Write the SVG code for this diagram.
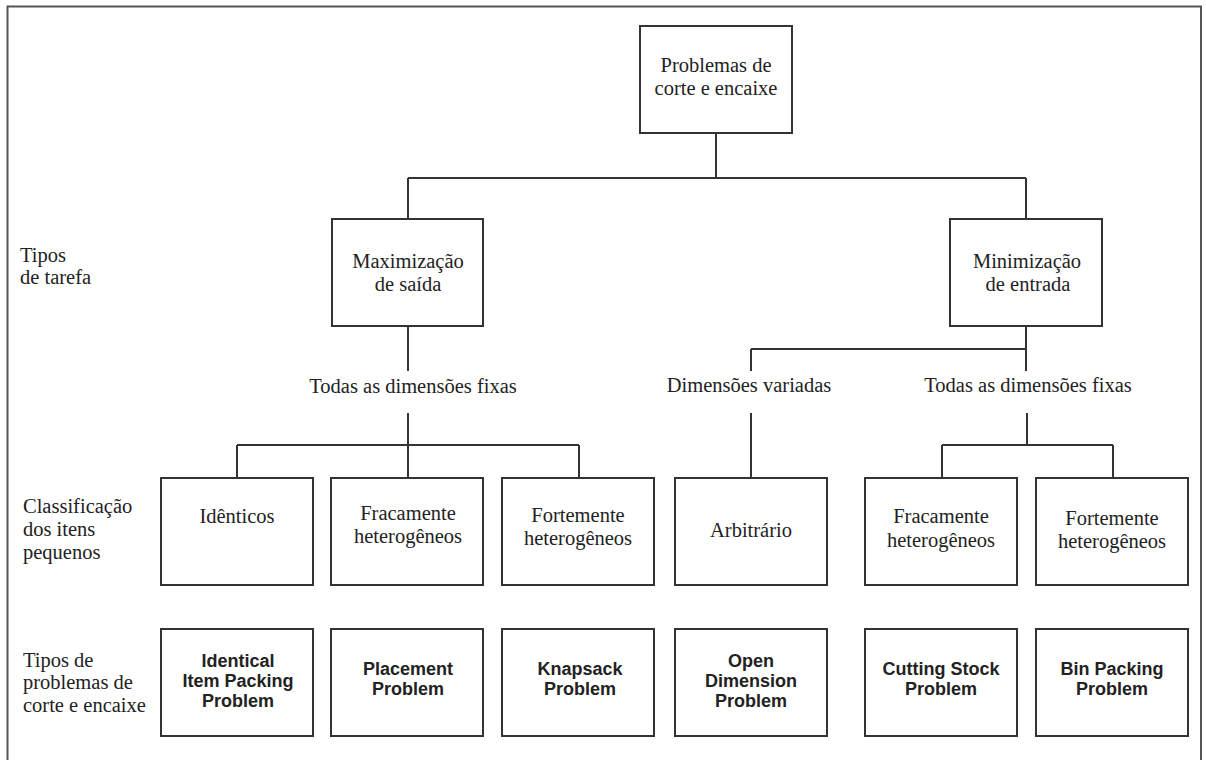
<svg xmlns="http://www.w3.org/2000/svg" width="1206" height="760" viewBox="0 0 1206 760">
<style>
.box{fill:#fff;stroke:#333;stroke-width:2}
.ln{fill:none;stroke:#333;stroke-width:2}
.s{font-family:"Liberation Serif","Times New Roman",serif;font-size:20.5px;fill:#222}
.c{text-anchor:middle}
.b{font-family:"Liberation Sans",Arial,sans-serif;font-size:18px;font-weight:bold;fill:#222;text-anchor:middle}
</style>
<rect width="1206" height="760" fill="#fff"/>
<path d="M7.5,760 V6.5 H1201 V760" fill="none" stroke="#555" stroke-width="2"/>
<g id="connectors">
<path class="ln" d="M716,133 V178 M408,178 H1026 M408,178 V219 M1026,178 V219"/>
<path class="ln" d="M408,326 V371 M408,413 V477 M237,445 H579 M237,445 V477 M579,445 V477"/>
<path class="ln" d="M1026,326 V371 M751,349 H1026 M751,349 V371 M751,413 V477"/>
<path class="ln" d="M1027,413 V445 M942,445 H1113 M942,445 V477 M1113,445 V477"/>
</g>
<g id="labels-left">
<text class="s" x="20" y="262">Tipos</text>
<text class="s" x="20" y="284">de tarefa</text>
<text class="s" x="23" y="513">Classificação</text>
<text class="s" x="23" y="536">dos itens</text>
<text class="s" x="23" y="559">pequenos</text>
<text class="s" x="23" y="667">Tipos de</text>
<text class="s" x="23" y="689">problemas de</text>
<text class="s" x="23" y="712">corte e encaixe</text>
</g>
<g id="root">
<rect class="box" x="640" y="26" width="152" height="107"/>
<text class="s c" x="716" y="72">Problemas de</text>
<text class="s c" x="716" y="95">corte e encaixe</text>
</g>
<g id="max">
<rect class="box" x="332" y="219" width="151" height="107"/>
<text class="s c" x="408" y="268">Maximização</text>
<text class="s c" x="408" y="291">de saída</text>
</g>
<g id="min">
<rect class="box" x="950" y="219" width="152" height="107"/>
<text class="s c" x="1027" y="268">Minimização</text>
<text class="s c" x="1028" y="291">de entrada</text>
</g>
<g id="lbl-fixas-1"><text class="s c" x="413" y="393">Todas as dimensões fixas</text></g>
<g id="lbl-variadas"><text class="s c" x="749" y="392">Dimensões variadas</text></g>
<g id="lbl-fixas-2"><text class="s c" x="1028" y="392">Todas as dimensões fixas</text></g>
<g id="c1">
<rect class="box" x="161" y="478" width="152" height="107"/>
<text class="s c" x="237" y="523">Idênticos</text>
</g>
<g id="c2">
<rect class="box" x="331" y="478" width="152" height="107"/>
<text class="s c" x="408" y="520">Fracamente</text>
<text class="s c" x="408" y="543">heterogêneos</text>
</g>
<g id="c3">
<rect class="box" x="502" y="478" width="152" height="107"/>
<text class="s c" x="578" y="522">Fortemente</text>
<text class="s c" x="578" y="545">heterogêneos</text>
</g>
<g id="c4">
<rect class="box" x="675" y="478" width="152" height="107"/>
<text class="s c" x="751" y="537">Arbitrário</text>
</g>
<g id="c5">
<rect class="box" x="865" y="478" width="152" height="107"/>
<text class="s c" x="941" y="523">Fracamente</text>
<text class="s c" x="941" y="547">heterogêneos</text>
</g>
<g id="c6">
<rect class="box" x="1036" y="478" width="152" height="107"/>
<text class="s c" x="1112" y="525">Fortemente</text>
<text class="s c" x="1112" y="548">heterogêneos</text>
</g>
<g id="p1">
<rect class="box" x="161" y="629" width="152" height="107"/>
<text class="b" x="238" y="667">Identical</text>
<text class="b" x="238" y="687">Item Packing</text>
<text class="b" x="238" y="707">Problem</text>
</g>
<g id="p2">
<rect class="box" x="331" y="629" width="152" height="107"/>
<text class="b" x="408" y="675">Placement</text>
<text class="b" x="408" y="695">Problem</text>
</g>
<g id="p3">
<rect class="box" x="502" y="629" width="152" height="107"/>
<text class="b" x="580" y="675">Knapsack</text>
<text class="b" x="580" y="695">Problem</text>
</g>
<g id="p4">
<rect class="box" x="675" y="629" width="152" height="107"/>
<text class="b" x="751" y="667">Open</text>
<text class="b" x="751" y="687">Dimension</text>
<text class="b" x="751" y="707">Problem</text>
</g>
<g id="p5">
<rect class="box" x="865" y="629" width="152" height="107"/>
<text class="b" x="941" y="675">Cutting Stock</text>
<text class="b" x="941" y="695">Problem</text>
</g>
<g id="p6">
<rect class="box" x="1036" y="629" width="152" height="107"/>
<text class="b" x="1112" y="675">Bin Packing</text>
<text class="b" x="1112" y="695">Problem</text>
</g>
</svg>
